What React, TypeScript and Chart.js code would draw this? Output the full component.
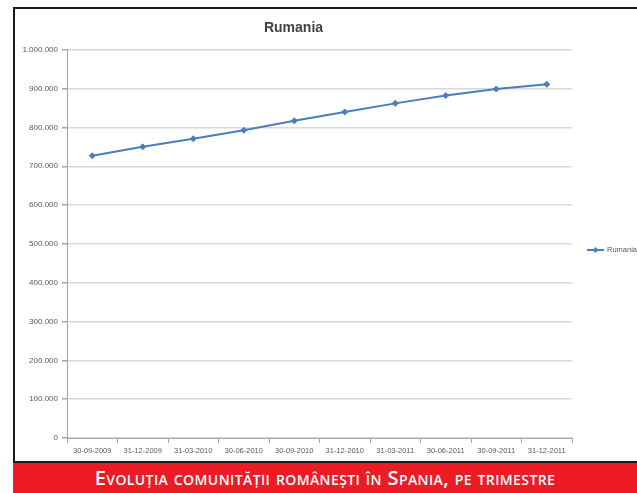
import React, { useEffect, useRef } from "react";
import { Chart, registerables } from "chart.js";

Chart.register(...registerables);

const categories = [
  "30-09-2009",
  "31-12-2009",
  "31-03-2010",
  "30-06-2010",
  "30-09-2010",
  "31-12-2010",
  "31-03-2011",
  "30-06-2011",
  "30-09-2011",
  "31-12-2011",
];
const seriesName = "Rumania";
const rumaniaValues = [727000, 750000, 771000, 793000, 817000, 840000, 862000, 882000, 899000, 911000];
const yMin = 0;
const yMax = 1000000;
const yStep = 100000;
const chartTitle = "Rumania";
const caption = "Evoluția comunității românești în Spania, pe trimestre";

const LINE_COLOR = "#4A7EBB";
const TEXT_COLOR = "#595959";

const fmt = (v: number) => String(Math.round(v)).replace(/\B(?=(\d{3})+(?!\d))/g, ".");

const legendPlugin = {
  id: "customLegend",
  afterDraw(chart: any) {
    const { ctx, chartArea } = chart;
    const y = 241;
    const x0 = chartArea.right + 15;
    const x1 = chartArea.right + 32;
    ctx.save();
    ctx.strokeStyle = LINE_COLOR;
    ctx.lineWidth = 2;
    ctx.beginPath();
    ctx.moveTo(x0, y);
    ctx.lineTo(x1, y);
    ctx.stroke();
    const mx = (x0 + x1) / 2;
    ctx.fillStyle = LINE_COLOR;
    ctx.beginPath();
    ctx.moveTo(mx, y - 3);
    ctx.lineTo(mx + 3, y);
    ctx.lineTo(mx, y + 3);
    ctx.lineTo(mx - 3, y);
    ctx.closePath();
    ctx.fill();
    ctx.fillStyle = TEXT_COLOR;
    ctx.font = "7.5px 'Liberation Sans'";
    ctx.textBaseline = "middle";
    ctx.textAlign = "left";
    ctx.fillText(seriesName, x1 + 3, y);
    ctx.restore();
  },
};

export default function App() {
  const ref = useRef<HTMLCanvasElement | null>(null);

  useEffect(() => {
    if (!ref.current) return;
    const chart = new Chart(ref.current, {
      type: "line",
      data: {
        labels: categories,
        datasets: [
          {
            label: seriesName,
            data: rumaniaValues,
            borderColor: LINE_COLOR,
            backgroundColor: LINE_COLOR,
            borderWidth: 2,
            pointStyle: "rectRot",
            pointRadius: 3,
            pointBorderWidth: 1,
            tension: 0,
          },
        ],
      },
      options: {
        responsive: false,
        animation: false,
        devicePixelRatio: 1,
        layout: { padding: { left: 0, right: 103, top: 0, bottom: 0 } },
        plugins: {
          legend: { display: false },
          tooltip: { enabled: false },
          title: {
            display: true,
            text: chartTitle,
            color: "#404040",
            font: { family: "'Liberation Sans'", size: 14, weight: "bold", lineHeight: 1.2 },
            padding: { top: 11, bottom: 13 },
          },
        },
        scales: {
          x: {
            offset: true,
            grid: {
              offset: true,
              drawOnChartArea: false,
              drawTicks: true,
              tickLength: 5,
              color: "#a6a6a6",
            },
            border: { color: "#a6a6a6", width: 1 },
            ticks: {
              color: TEXT_COLOR,
              font: { family: "'Liberation Sans'", size: 7.5 },
              maxRotation: 0,
              minRotation: 0,
              autoSkip: false,
              padding: 3,
            },
            afterFit: (scale: any) => {
              scale.height = 23;
            },
          },
          y: {
            min: yMin,
            max: yMax,
            grid: {
              color: "#d9d9d9",
              lineWidth: 1.5,
              drawTicks: true,
              tickLength: 5,
              tickColor: "#a6a6a6",
            },
            border: { color: "#a6a6a6", width: 1 },
            ticks: {
              stepSize: yStep,
              color: TEXT_COLOR,
              font: { family: "'Liberation Sans'", size: 8 },
              padding: 4,
              callback: (v: any) => fmt(Number(v)),
            },
            afterFit: (scale: any) => {
              scale.width = 52;
            },
          },
        },
      },
      plugins: [legendPlugin],
    });
    return () => chart.destroy();
  }, []);

  return (
    <div
      style={{
        position: "absolute",
        left: 0,
        top: 0,
        width: 637,
        height: 493,
        overflow: "hidden",
        background: "#ffffff",
      }}
    >
      <div
        style={{
          position: "absolute",
          left: 13,
          top: 7,
          width: 660,
          height: 452,
          borderLeft: "2px solid #1a1a1a",
          borderTop: "2px solid #1a1a1a",
          borderBottom: "2px solid #1a1a1a",
        }}
      />
      <canvas
        ref={ref}
        width={660}
        height={452}
        style={{ position: "absolute", left: 15, top: 9, width: 660, height: 452 }}
      />
      <div
        style={{
          position: "absolute",
          left: 13,
          top: 463,
          width: 624,
          height: 30,
          background: "#ED1C24",
          color: "#ffffff",
          fontFamily: "'Open Sans', sans-serif",
          fontSize: 20,
          fontVariant: "small-caps",
          fontWeight: 600,
          lineHeight: "30px",
          textAlign: "center",
          whiteSpace: "nowrap",
          letterSpacing: "0.4px",
        }}
      >
        {caption}
      </div>
    </div>
  );
}
